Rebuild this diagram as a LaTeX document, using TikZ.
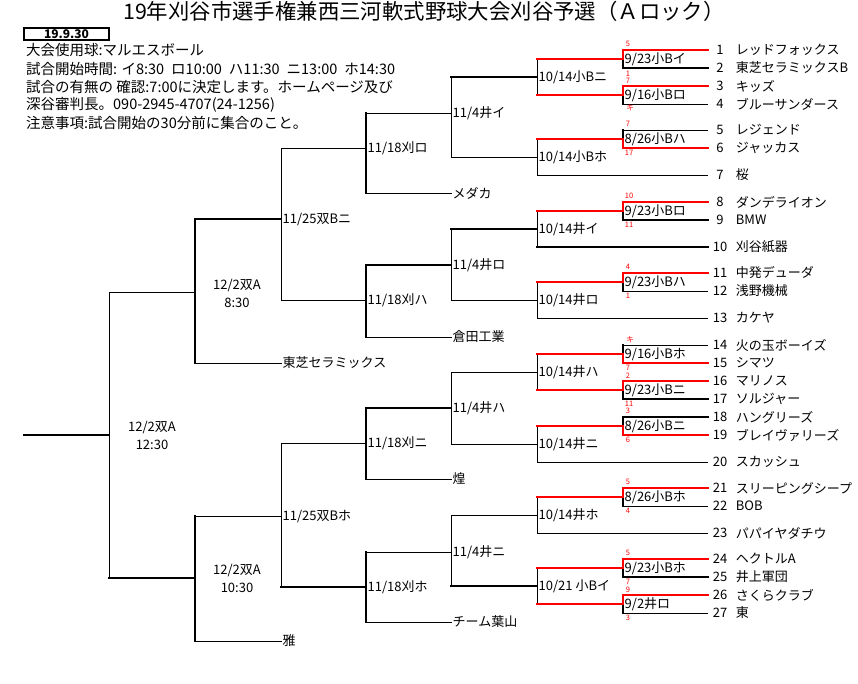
\documentclass[tikz,border=0pt]{standalone}
\usepackage{fontspec}
\setmainfont{Noto Sans CJK JP}
\usepackage{tikz}
\usetikzlibrary{positioning}

\tikzset{
  thn/.style={line width=1pt, line cap=rect},
  bld/.style={line width=2.9pt, line cap=rect},
  win/.style={line width=2.9pt, line cap=rect, draw=red},
}

\begin{document}
\begin{tikzpicture}[
  x=1pt, y=-1pt, font=\fontsize{13}{15}\selectfont,
  num/.style={minimum width=24pt, inner sep=0pt},
  tname/.style={inner sep=1.5pt, anchor=west},
  mlbl/.style={inner sep=1.5pt, anchor=west},
  rlbl/.style={align=center, inner sep=0pt, font=\fontsize{13}{18}\selectfont},
  info/.style={anchor=west, inner sep=0pt, font=\fontsize{14.5}{16}\selectfont},
  score/.style={text=red, inner sep=0pt, font=\fontsize{7.5}{8}\selectfont},
  datebox/.style={draw, line width=2.4pt, minimum width=85pt, minimum height=12pt, inner sep=0pt, font=\fontsize{12}{12}\selectfont\bfseries}
]
\fill[white] (0,0) rectangle (858,683);
\useasboundingbox (0,0) rectangle (858,683);

% heading
\node[font=\fontsize{21.4}{23}\selectfont] (title) at (424,11) {19年刈谷市選手権兼西三河軟式野球大会刈谷予選（Ａロック）};
\node[datebox] (date) at (66.5,34) {19.9.30};
\node[info] (info1) at (26,50) {大会使用球:マルエスボール};
\node[info] (info2) at (26,69) {試合開始時間: イ8:30\hspace{7pt}ロ10:00\hspace{7pt}ハ11:30\hspace{7pt}ニ13:00\hspace{7pt}ホ14:30};
\node[info] (info3) at (26,87) {試合の有無の 確認:7:00に決定します。ホームページ及び};
\node[info] (info4) at (26,105) {深谷審判長。090-2945-4707(24-1256)};
\node[info] (info5) at (26,123) {注意事項:試合開始の30分前に集合のこと。};

% teams
\node[num] (t1) at (720,50) {1};   \node[tname, right=2pt of t1] (n1) {レッドフォックス};
\node[num] (t2) at (720,68) {2};   \node[tname, right=2pt of t2] (n2) {東芝セラミックスB};
\node[num] (t3) at (720,86) {3};   \node[tname, right=2pt of t3] (n3) {キッズ};
\node[num] (t4) at (720,104) {4};  \node[tname, right=2pt of t4] (n4) {ブルーサンダース};
\node[num] (t5) at (720,130) {5};  \node[tname, right=2pt of t5] (n5) {レジェンド};
\node[num] (t6) at (720,148) {6};  \node[tname, right=2pt of t6] (n6) {ジャッカス};
\node[num] (t7) at (720,175) {7};  \node[tname, right=2pt of t7] (n7) {桜};
\node[num] (t8) at (720,202) {8};  \node[tname, right=2pt of t8] (n8) {ダンデライオン};
\node[num] (t9) at (720,220) {9};  \node[tname, right=2pt of t9] (n9) {BMW};
\node[num] (t10) at (720,247) {10}; \node[tname, right=2pt of t10] (n10) {刈谷紙器};
\node[num] (t11) at (720,273) {11}; \node[tname, right=2pt of t11] (n11) {中発デューダ};
\node[num] (t12) at (720,291) {12}; \node[tname, right=2pt of t12] (n12) {浅野機械};
\node[num] (t13) at (720,318) {13}; \node[tname, right=2pt of t13] (n13) {カケヤ};
\node[num] (t14) at (720,345) {14}; \node[tname, right=2pt of t14] (n14) {火の玉ボーイズ};
\node[num] (t15) at (720,363) {15}; \node[tname, right=2pt of t15] (n15) {シマツ};
\node[num] (t16) at (720,381) {16}; \node[tname, right=2pt of t16] (n16) {マリノス};
\node[num] (t17) at (720,399) {17}; \node[tname, right=2pt of t17] (n17) {ソルジャー};
\node[num] (t18) at (720,417) {18}; \node[tname, right=2pt of t18] (n18) {ハングリーズ};
\node[num] (t19) at (720,435) {19}; \node[tname, right=2pt of t19] (n19) {ブレイヴァリーズ};
\node[num] (t20) at (720,462) {20}; \node[tname, right=2pt of t20] (n20) {スカッシュ};
\node[num] (t21) at (720,488) {21}; \node[tname, right=2pt of t21] (n21) {スリーピングシープ};
\node[num] (t22) at (720,506) {22}; \node[tname, right=2pt of t22] (n22) {BOB};
\node[num] (t23) at (720,533) {23}; \node[tname, right=2pt of t23] (n23) {パパイヤダチウ};
\node[num] (t24) at (720,559) {24}; \node[tname, right=2pt of t24] (n24) {ヘクトルA};
\node[num] (t25) at (720,577) {25}; \node[tname, right=2pt of t25] (n25) {井上軍団};
\node[num] (t26) at (720,595) {26}; \node[tname, right=2pt of t26] (n26) {さくらクラブ};
\node[num] (t27) at (720,613) {27}; \node[tname, right=2pt of t27] (n27) {東};

% teams that enter later
\node[tname] (k1) at (451,193) {メダカ};
\node[tname] (k2) at (451,337) {倉田工業};
\node[tname] (k3) at (451,479) {煌};
\node[tname] (k4) at (451,622) {チーム葉山};
\node[tname] (k5) at (281,363) {東芝セラミックス};
\node[tname] (k6) at (281,641) {雅};

% match points
\coordinate (a1) at (623,59);  \coordinate (a2) at (623,95);  \coordinate (a3) at (623,139);
\coordinate (a4) at (623,211); \coordinate (a5) at (623,282); \coordinate (a6) at (623,354);
\coordinate (a7) at (623,390); \coordinate (a8) at (623,426); \coordinate (a9) at (623,497);
\coordinate (a10) at (623,568); \coordinate (a11) at (623,604);
\coordinate (b1) at (537,77);  \coordinate (b2) at (537,157); \coordinate (b3) at (537,229);
\coordinate (b4) at (537,300); \coordinate (b5) at (537,372); \coordinate (b6) at (537,444);
\coordinate (b7) at (537,515); \coordinate (b8) at (537,586);
\coordinate (c1) at (451,113); \coordinate (c2) at (451,265); \coordinate (c3) at (451,408); \coordinate (c4) at (451,552);
\coordinate (d1) at (366,148); \coordinate (d2) at (366,300); \coordinate (d3) at (366,443); \coordinate (d4) at (366,587);
\coordinate (e1) at (281,219); \coordinate (e2) at (281,516);
\coordinate (f1) at (195,292); \coordinate (f2) at (195,578);
\coordinate (g) at (109,435);
\coordinate (o) at (24,435);

% first games
\draw[win] (t1.west) -| (a1); \draw[bld] (t2.west) -| (a1);
\draw[bld] (a2) -- (a2 |- t4.west); \draw[thn] (t4.west) -- (a2 |- t4.west); \draw[win] (t3.west) -| (a2);
\draw[bld] (a3) -- (a3 |- t5.west); \draw[thn] (t5.west) -- (a3 |- t5.west); \draw[win] (t6.west) -| (a3);
\draw[win] (t8.west) -| (a4); \draw[bld] (t9.west) -| (a4);
\draw[bld] (a5) -- (a5 |- t12.west); \draw[thn] (t12.west) -- (a5 |- t12.west); \draw[win] (t11.west) -| (a5);
\draw[bld] (a6) -- (a6 |- t14.west); \draw[thn] (t14.west) -- (a6 |- t14.west); \draw[win] (t15.west) -| (a6);
\draw[win] (t16.west) -| (a7); \draw[bld] (t17.west) -| (a7);
\draw[bld] (t18.west) -| (a8); \draw[win] (t19.west) -| (a8);
\draw[bld] (a9) -- (a9 |- t22.west); \draw[thn] (t22.west) -- (a9 |- t22.west); \draw[win] (t21.west) -| (a9);
\draw[win] (t24.west) -| (a10); \draw[bld] (t25.west) -| (a10);
\draw[bld] (a11) -- (a11 |- t27.west); \draw[thn] (t27.west) -- (a11 |- t27.west); \draw[win] (t26.west) -| (a11);

% second games
\draw[thn] (b1 |- a1) -- (b1 |- a2); \draw[win] (a1) -- (b1 |- a1); \draw[win] (a2) -- (b1 |- a2);
\draw[thn] (b2 |- a3) -- (b2 |- t7.west); \draw[win] (a3) -- (b2 |- a3); \draw[thn] (t7.west) -- (b2 |- t7.west);
\draw[thn] (b3 |- a4) -- (b3 |- t10.west); \draw[win] (a4) -- (b3 |- a4); \draw[bld] (t10.west) -- (b3 |- t10.west);
\draw[thn] (b4 |- a5) -- (b4 |- t13.west); \draw[win] (a5) -- (b4 |- a5); \draw[thn] (t13.west) -- (b4 |- t13.west);
\draw[thn] (b5 |- a6) -- (b5 |- a7); \draw[win] (a6) -- (b5 |- a6); \draw[win] (a7) -- (b5 |- a7);
\draw[thn] (b6 |- a8) -- (b6 |- t20.west); \draw[win] (a8) -- (b6 |- a8); \draw[thn] (t20.west) -- (b6 |- t20.west);
\draw[thn] (b7 |- a9) -- (b7 |- t23.west); \draw[win] (a9) -- (b7 |- a9); \draw[thn] (t23.west) -- (b7 |- t23.west);
\draw[thn] (b8 |- a10) -- (b8 |- a11); \draw[win] (a10) -- (b8 |- a10); \draw[win] (a11) -- (b8 |- a11);

% third games
\draw[thn] (c1 |- b1) -- (c1 |- b2); \draw[bld] (b1) -- (c1 |- b1); \draw[thn] (b2) -- (c1 |- b2);
\draw[thn] (c2 |- b3) -- (c2 |- b4); \draw[bld] (b3) -- (c2 |- b3); \draw[thn] (b4) -- (c2 |- b4);
\draw[thn] (c3 |- b5) -- (c3 |- b6); \draw[thn] (b5) -- (c3 |- b5); \draw[thn] (b6) -- (c3 |- b6);
\draw[thn] (c4 |- b7) -- (c4 |- b8); \draw[thn] (b7) -- (c4 |- b7); \draw[bld] (b8) -- (c4 |- b8);

% fourth games
\draw[thn] (c1) -- (d1 |- c1); \draw[thn] (k1.west) -- (d1 |- k1.west); \draw[bld] (d1 |- c1) -- (d1 |- k1.west);
\draw[bld] (c2) -- (d2 |- c2); \draw[thn] (k2.west) -- (d2 |- k2.west); \draw[bld] (d2 |- c2) -- (d2 |- k2.west);
\draw[bld] (c3) -- (d3 |- c3); \draw[thn] (k3.west) -- (d3 |- k3.west); \draw[bld] (d3 |- c3) -- (d3 |- k3.west);
\draw[thn] (c4) -- (d4 |- c4); \draw[thn] (k4.west) -- (d4 |- k4.west); \draw[bld] (d4 |- c4) -- (d4 |- k4.west);

% fifth games
\draw[thn] (e1 |- d1) -- (e1 |- d2); \draw[thn] (d1) -- (e1 |- d1); \draw[thn] (d2) -- (e1 |- d2);
\draw[thn] (e2 |- d3) -- (e2 |- d4); \draw[thn] (d3) -- (e2 |- d3); \draw[bld] (d4) -- (e2 |- d4);

% semis and final
\draw[thn] (k5.west) -- (f1 |- k5.west); \draw[bld] (e1) -- (f1 |- e1); \draw[bld] (f1 |- e1) -- (f1 |- k5.west);
\draw[thn] (e2) -- (f2 |- e2); \draw[thn] (k6.west) -- (f2 |- k6.west); \draw[bld] (f2 |- e2) -- (f2 |- k6.west);
\draw[thn] (g |- f1) -- (g |- f2); \draw[thn] (f1) -- (g |- f1); \draw[bld] (f2) -- (g |- f2);
\draw[bld] (o) -- (g);

% match labels
\node[mlbl] (la1) at (a1) {9/23小Bイ};
\node[mlbl] (la2) at (a2) {9/16小Bロ};
\node[mlbl] (la3) at (a3) {8/26小Bハ};
\node[mlbl] (la4) at (a4) {9/23小Bロ};
\node[mlbl] (la5) at (a5) {9/23小Bハ};
\node[mlbl] (la6) at (a6) {9/16小Bホ};
\node[mlbl] (la7) at (a7) {9/23小Bニ};
\node[mlbl] (la8) at (a8) {8/26小Bニ};
\node[mlbl] (la9) at (a9) {8/26小Bホ};
\node[mlbl] (la10) at (a10) {9/23小Bホ};
\node[mlbl] (la11) at (a11) {9/2井ロ};
\node[mlbl] (lb1) at (b1) {10/14小Bニ};
\node[mlbl] (lb2) at (b2) {10/14小Bホ};
\node[mlbl] (lb3) at (b3) {10/14井イ};
\node[mlbl] (lb4) at (b4) {10/14井ロ};
\node[mlbl] (lb5) at (b5) {10/14井ハ};
\node[mlbl] (lb6) at (b6) {10/14井ニ};
\node[mlbl] (lb7) at (b7) {10/14井ホ};
\node[mlbl] (lb8) at (b8) {10/21 小Bイ};
\node[mlbl] (lc1) at (c1) {11/4井イ};
\node[mlbl] (lc2) at (c2) {11/4井ロ};
\node[mlbl] (lc3) at (c3) {11/4井ハ};
\node[mlbl] (lc4) at (c4) {11/4井ニ};
\node[mlbl] (ld1) at (d1) {11/18刈ロ};
\node[mlbl] (ld2) at (d2) {11/18刈ハ};
\node[mlbl] (ld3) at (d3) {11/18刈ニ};
\node[mlbl] (ld4) at (d4) {11/18刈ホ};
\node[mlbl] (le1) at (e1) {11/25双Bニ};
\node[mlbl] (le2) at (e2) {11/25双Bホ};
\node[rlbl] (lf1) at (237,293) {12/2双A\\8:30};
\node[rlbl] (lf2) at (237,578) {12/2双A\\10:30};
\node[rlbl] (lg) at (152,435) {12/2双A\\12:30};

% scores
\node[score] (s1) at (628,44) {5};   \node[score] (s2) at (628,74) {1};
\node[score] (s3) at (628,81) {7};   \node[score] (s4) at (630,108) {キ};
\node[score] (s5) at (628,124) {7};  \node[score] (s6) at (629,153) {17};
\node[score] (s7) at (629,196) {10}; \node[score] (s8) at (629,225) {11};
\node[score] (s9) at (628,267) {4};  \node[score] (s10) at (628,296) {1};
\node[score] (s11) at (630,340) {キ}; \node[score] (s12) at (628,368) {7};
\node[score] (s13) at (628,376) {2};  \node[score] (s14) at (629,404) {11};
\node[score] (s15) at (628,411) {3};  \node[score] (s16) at (628,440) {6};
\node[score] (s17) at (628,482) {5};  \node[score] (s18) at (628,511) {4};
\node[score] (s19) at (628,553) {5};  \node[score] (s20) at (628,582) {7};
\node[score] (s21) at (628,590) {9};  \node[score] (s22) at (628,618) {3};
\end{tikzpicture}
\end{document}
